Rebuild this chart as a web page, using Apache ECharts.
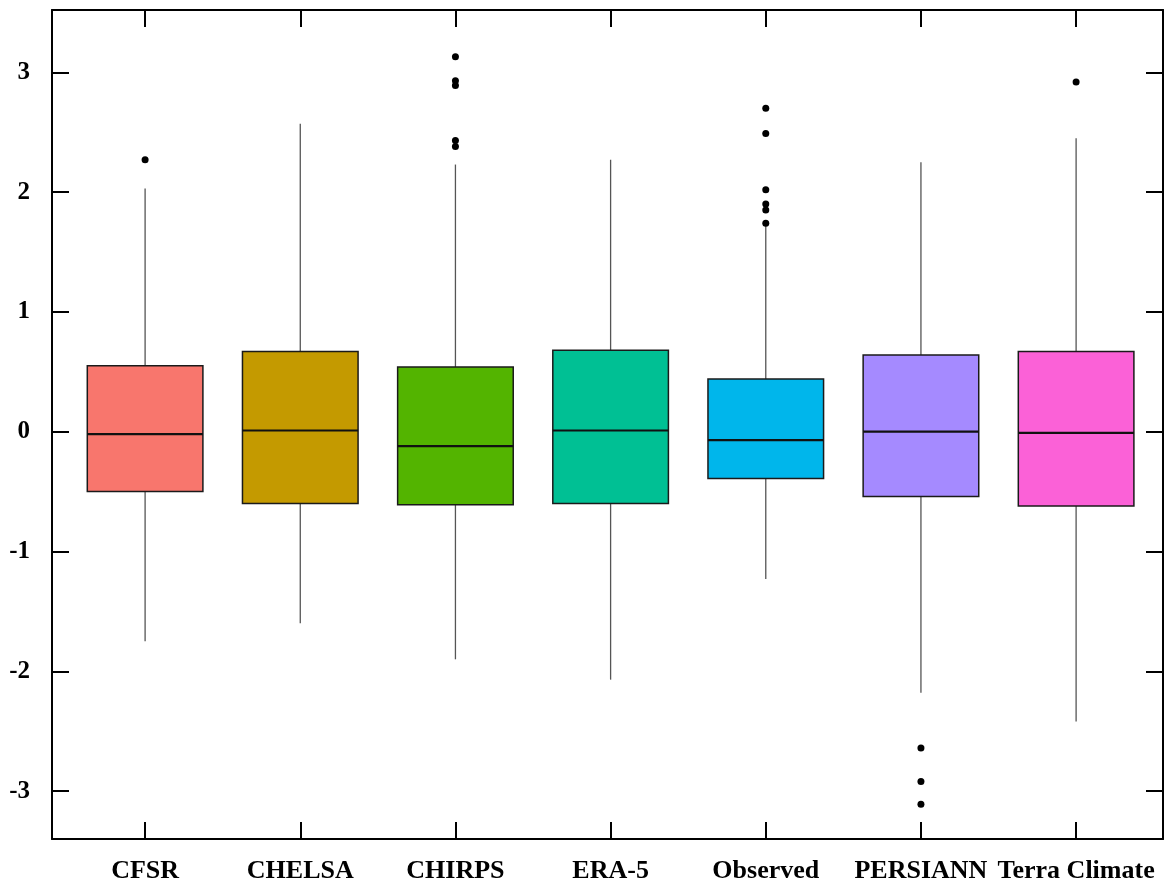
<!DOCTYPE html>
<html><head><meta charset="utf-8">
<script src="https://cdn.jsdelivr.net/npm/echarts@6/dist/echarts.min.js"></script>
<style>html,body{margin:0;padding:0;background:#fff}#c{width:1173px;height:886px}</style>
</head><body><div id="c"></div>
<script>
const categories = ['CFSR', 'CHELSA', 'CHIRPS', 'ERA-5', 'Observed', 'PERSIANN', 'Terra Climate'];
const lowWhisker  = [-1.75, -1.60, -1.90, -2.07, -1.23, -2.18, -2.42];
const q1          = [-0.50, -0.60, -0.61, -0.60, -0.39, -0.54, -0.62];
const median      = [-0.02,  0.01, -0.12,  0.01, -0.07,  0.00, -0.01];
const q3          = [ 0.55,  0.67,  0.54,  0.68,  0.44,  0.64,  0.67];
const highWhisker = [ 2.03,  2.57,  2.23,  2.27,  1.72,  2.25,  2.45];
const outlierCategory = ['CFSR', 'CHIRPS', 'CHIRPS', 'CHIRPS', 'CHIRPS', 'CHIRPS',
  'Observed', 'Observed', 'Observed', 'Observed', 'Observed', 'Observed',
  'PERSIANN', 'PERSIANN', 'PERSIANN', 'Terra Climate'];
const outlierValue = [2.27, 3.13, 2.93, 2.89, 2.43, 2.38,
  2.70, 2.49, 2.02, 1.90, 1.85, 1.74,
  -2.64, -2.92, -3.11, 2.92];
const yTicks = [-3, -2, -1, 0, 1, 2, 3];
const colors = ['#F8766D', '#C49A00', '#53B400', '#00C094', '#00B6EB', '#A58AFF', '#FB61D7'];

const xPositions = categories.map((c, i) => i + 1);
const boxData = categories.map((c, i) => [i + 1, lowWhisker[i], q1[i], median[i], q3[i], highWhisker[i]]);
const outlierData = outlierValue.map((v, i) => [categories.indexOf(outlierCategory[i]) + 1, v]);

const labelFont = { fontFamily: 'Liberation Serif', fontWeight: 'bold', color: '#000' };
const axisLineStyle = { show: true, onZero: false, lineStyle: { color: '#000', width: 2 } };
const tickStyle = { show: true, inside: true, length: 17, lineStyle: { color: '#000', width: 2 } };

const chart = echarts.init(document.getElementById('c'));
chart.setOption({
  animation: false,
  backgroundColor: '#fff',
  grid: { left: 52, right: 10, top: 10, bottom: 47, containLabel: false },
  xAxis: [
    { type: 'value', min: 0.4, max: 7.56, position: 'bottom',
      axisLine: axisLineStyle, splitLine: { show: false },
      axisTick: Object.assign({ customValues: xPositions }, tickStyle),
      axisLabel: Object.assign({ customValues: xPositions, margin: 19, fontSize: 26,
        formatter: v => categories[Math.round(v) - 1] || '' }, labelFont) },
    { type: 'value', min: 0.4, max: 7.56, position: 'top',
      axisLine: axisLineStyle, splitLine: { show: false },
      axisTick: Object.assign({ customValues: xPositions }, tickStyle),
      axisLabel: { show: false } }
  ],
  yAxis: [
    { type: 'value', min: -3.4, max: 3.52, position: 'left',
      axisLine: axisLineStyle, splitLine: { show: false },
      axisTick: Object.assign({ customValues: yTicks }, tickStyle),
      axisLabel: Object.assign({ customValues: yTicks, margin: 22, fontSize: 25 }, labelFont) },
    { type: 'value', min: -3.4, max: 3.52, position: 'right',
      axisLine: axisLineStyle, splitLine: { show: false },
      axisTick: Object.assign({ customValues: yTicks }, tickStyle),
      axisLabel: { show: false } }
  ],
  series: [
    {
      type: 'custom',
      xAxisIndex: 0, yAxisIndex: 0,
      encode: { x: 0, y: [1, 2, 3, 4, 5] },
      data: boxData,
      renderItem: function (params, api) {
        const x = api.value(0);
        const lo = api.coord([x, api.value(1)]);
        const b1 = api.coord([x, api.value(2)]);
        const md = api.coord([x, api.value(3)]);
        const b3 = api.coord([x, api.value(4)]);
        const hi = api.coord([x, api.value(5)]);
        const bw = api.size([1, 0])[0] * 0.745;
        const cx = md[0];
        return {
          type: 'group',
          children: [
            { type: 'line', shape: { x1: cx, y1: hi[1], x2: cx, y2: b3[1] }, style: { stroke: '#555', lineWidth: 1.3 } },
            { type: 'line', shape: { x1: cx, y1: b1[1], x2: cx, y2: lo[1] }, style: { stroke: '#555', lineWidth: 1.3 } },
            { type: 'rect', shape: { x: cx - bw / 2, y: b3[1], width: bw, height: b1[1] - b3[1] },
              style: { fill: colors[params.dataIndex], stroke: '#1a1a1a', lineWidth: 1.5 } },
            { type: 'line', shape: { x1: cx - bw / 2, y1: md[1], x2: cx + bw / 2, y2: md[1] }, style: { stroke: '#111', lineWidth: 2.2 } }
          ]
        };
      }
    },
    {
      type: 'scatter',
      xAxisIndex: 0, yAxisIndex: 0,
      data: outlierData,
      symbol: 'circle',
      symbolSize: 7,
      itemStyle: { color: '#000', opacity: 1 }
    }
  ]
});
</script>
</body></html>
